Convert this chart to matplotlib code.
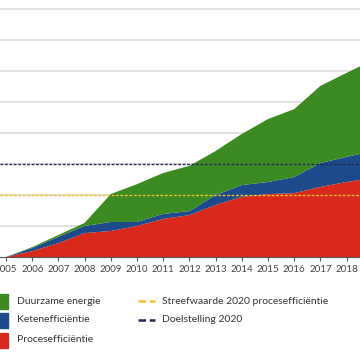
import numpy as np
import matplotlib
matplotlib.use("Agg")
import matplotlib.pyplot as plt
from matplotlib.patches import Rectangle
from matplotlib.lines import Line2D

plt.rcParams['font.family'] = ['Lato', 'DejaVu Sans']

# jaren en bijdragen (besparing t.o.v. 2005, %)
jaren = [2005, 2006, 2007, 2008, 2009, 2010, 2011, 2012, 2013, 2014, 2015, 2016, 2017, 2018, 2019]
proces = [0, 1.9, 4.5, 7.7, 8.4, 10.0, 12.3, 13.5, 16.8, 19.4, 20.3, 20.6, 22.6, 24.2, 25.5]
keten = [0, 1.0, 2.0, 2.3, 2.9, 1.3, 1.6, 1.3, 3.2, 3.8, 3.9, 5.2, 7.7, 8.1, 8.7]
duurzaam = [0, 0.3, 0.6, 1.0, 9.0, 12.2, 13.2, 14.6, 14.2, 16.5, 20.3, 21.9, 24.9, 27.1, 29.3]
streefwaarde = 20
doelstelling = 30
labels = ["Duurzame energie", "Ketenefficiëntie", "Procesefficiëntie"]
lijn_labels = ["Streefwaarde 2020 procesefficiëntie", "Doelstelling 2020"]

groen = '#3b8a22'
blauw = '#1d4a8a'
rood = '#d9291c'
geel = '#f2c12e'
paars = '#2e2459'

fig = plt.figure(figsize=(3.6, 3.6), dpi=100)
ax = fig.add_axes([0, 103 / 360, 1, 257 / 360])

ax.stackplot(jaren, proces, keten, duurzaam, colors=[rood, blauw, groen], linewidth=0, zorder=2)

for g in range(10, 90, 10):
    ax.axhline(g, color='#dcdcdc', lw=1.2, zorder=1)

ax.axhline(streefwaarde, color=geel, lw=1, dashes=(2, 1.2), zorder=3)
ax.axhline(doelstelling, color=paars, lw=1, dashes=(2, 1.2), zorder=3)

ax.set_xticks(jaren)
ax.set_xticklabels([str(j) for j in jaren], fontsize=7, color='#444444')
ax.set_xlim(2004.77, 2018.51)
ax.set_ylim(0, 82.9)
ax.tick_params(axis='x', length=3, width=0.8, color='#555555', pad=3)
ax.set_yticks([])
for s in ['top', 'right', 'left']:
    ax.spines[s].set_visible(False)
ax.spines['bottom'].set_color('#555555')
ax.spines['bottom'].set_linewidth(0.8)
ax.spines['bottom'].set_zorder(4)

# legenda
H = 360.0
rijen = [301, 320, 340]
for kleur, tekst, y in zip([groen, blauw, rood], labels, rijen):
    fig.patches.append(Rectangle((0, 1 - (y + 7.5) / H), 8 / H, 15 / H,
                                 transform=fig.transFigure, color=kleur))
    fig.text(17 / H, 1 - y / H, tekst, fontsize=7.5, color='#333333', va='center')

for kleur, tekst, y in zip([geel, paars], lijn_labels, rijen[:2]):
    fig.lines.append(Line2D([138 / H, 155 / H], [1 - y / H, 1 - y / H], transform=fig.transFigure,
                            color=kleur, lw=1.8, dashes=(3, 1.5)))
    fig.text(162 / H, 1 - y / H, tekst, fontsize=7.5, color='#333333', va='center')

fig.savefig('out.png', dpi=100)
